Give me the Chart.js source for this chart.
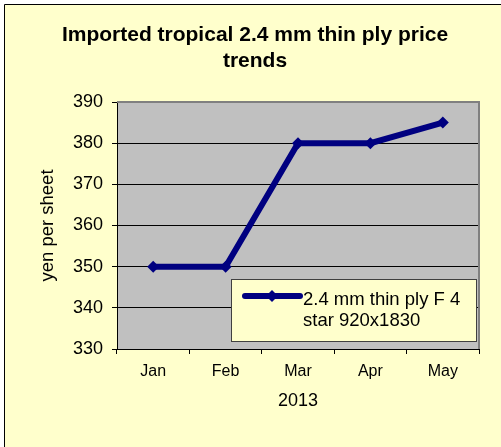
<!DOCTYPE html>
<html>
<head>
<meta charset="utf-8">
<script src="https://cdn.jsdelivr.net/npm/chart.js@4/dist/chart.umd.min.js"></script>
<style>
  html, body { margin: 0; padding: 0; background: #fff; }
  #wrap { width: 501px; height: 447px; }
</style>
</head>
<body>
<div id="wrap"><canvas id="chart-canvas" width="501" height="447"></canvas></div>
<script>
// data
const months = ['Jan', 'Feb', 'Mar', 'Apr', 'May'];
const prices = [350, 350, 380, 380, 385];
const seriesLabel = ['2.4 mm thin ply F 4', 'star 920x1830'];
const chartTitle = ['Imported tropical 2.4 mm thin ply price', 'trends'];
const xTitle = '2013';
const yTitle = 'yen per sheet';

const FONT = "'Liberation Sans', Arial, sans-serif";
const NAVY = '#000080';

// page background, yellow chart box, grey plot area
const backdrop = {
  id: 'backdrop',
  beforeDraw(chart) {
    const { ctx, width, height, chartArea: a } = chart;
    ctx.save();
    ctx.fillStyle = '#fff';
    ctx.fillRect(0, 0, width, height);
    ctx.fillStyle = '#FFFFCC';
    ctx.fillRect(5, 5, width, height);
    ctx.strokeStyle = '#000';
    ctx.lineWidth = 1;
    ctx.beginPath();
    ctx.moveTo(4.5, height);
    ctx.lineTo(4.5, 4.5);
    ctx.lineTo(width, 4.5);
    ctx.stroke();
    ctx.fillStyle = '#C0C0C0';
    ctx.fillRect(a.left, a.top, a.right - a.left, a.bottom - a.top);
    ctx.restore();
  },
  beforeDatasetsDraw(chart) {
    const { ctx, chartArea: a } = chart;
    ctx.save();
    ctx.strokeStyle = '#808080';
    ctx.lineWidth = 2;
    ctx.beginPath();
    ctx.moveTo(a.left, a.top);
    ctx.lineTo(a.right, a.top);
    ctx.lineTo(a.right, a.bottom);
    ctx.stroke();
    ctx.restore();
  }
};

// legend box sitting inside the plot, bottom right
const boxLegend = {
  id: 'boxLegend',
  afterDatasetsDraw(chart) {
    const { ctx, chartArea: a } = chart;
    const w = 245, h = 62;
    const x = a.right - 3 - w, y = a.bottom - 8 - h;
    ctx.save();
    ctx.fillStyle = '#FFFFCC';
    ctx.fillRect(x, y, w, h);
    ctx.strokeStyle = '#404040';
    ctx.lineWidth = 1;
    ctx.strokeRect(x + 0.5, y + 0.5, w, h);
    // sample line with a diamond
    ctx.strokeStyle = NAVY;
    ctx.lineWidth = 6;
    ctx.lineCap = 'round';
    ctx.beginPath();
    ctx.moveTo(x + 14, y + 17);
    ctx.lineTo(x + 69, y + 17);
    ctx.stroke();
    ctx.fillStyle = NAVY;
    ctx.beginPath();
    const cx = x + 41, cy = y + 17, r = 6;
    ctx.moveTo(cx, cy - r); ctx.lineTo(cx + r, cy); ctx.lineTo(cx, cy + r); ctx.lineTo(cx - r, cy);
    ctx.closePath();
    ctx.fill();
    ctx.fillStyle = '#000';
    ctx.font = '18.5px ' + FONT;
    ctx.textBaseline = 'middle';
    ctx.textAlign = 'left';
    seriesLabel.forEach((t, i) => ctx.fillText(t, x + 72, y + 21 + i * 21));
    ctx.restore();
  }
};

new Chart(document.getElementById('chart-canvas'), {
  type: 'line',
  plugins: [backdrop, boxLegend],
  data: {
    labels: months,
    datasets: [{
      label: seriesLabel.join(' '),
      data: prices,
      borderColor: NAVY,
      backgroundColor: NAVY,
      borderWidth: 6,
      pointStyle: 'rectRot',
      pointRadius: 6,
      pointBorderWidth: 0,
      tension: 0,
    }]
  },
  options: {
    responsive: false,
    animation: false,
    devicePixelRatio: 1,
    layout: { padding: { left: 31, right: 22, top: 0, bottom: 0 } },
    plugins: {
      legend: { display: false },
      tooltip: { enabled: false },
      title: {
        display: true,
        text: chartTitle,
        color: '#000',
        font: { family: FONT, size: 21, weight: 'bold', lineHeight: 1.25 },
        padding: { top: 22, bottom: 27.5 }
      }
    },
    scales: {
      x: {
        offset: true,
        afterFit(scale) { scale.height = 98; },
        border: { color: '#000', width: 1 },
        grid: { offset: true, drawOnChartArea: false, drawTicks: true, tickLength: 5, color: '#000' },
        ticks: { color: '#000', padding: 8, font: { family: FONT, size: 16 } },
        title: { display: true, text: xTitle, color: '#000', font: { family: FONT, size: 18 }, padding: { top: 4, bottom: 35 } }
      },
      y: {
        min: 330,
        max: 390,
        afterFit(scale) { scale.width = 86; },
        border: { color: '#000', width: 1 },
        grid: {
          color: ctx => (ctx.tick && ctx.tick.value === 390) ? 'rgba(0,0,0,0)' : '#000',
          tickColor: '#000',
          tickLength: 5
        },
        ticks: { stepSize: 10, color: '#000', padding: 9, font: { family: FONT, size: 18 } },
        title: { display: true, text: yTitle, color: '#000', font: { family: FONT, size: 18.5 }, padding: { top: 6, bottom: 4 } }
      }
    }
  }
});
</script>
</body>
</html>
